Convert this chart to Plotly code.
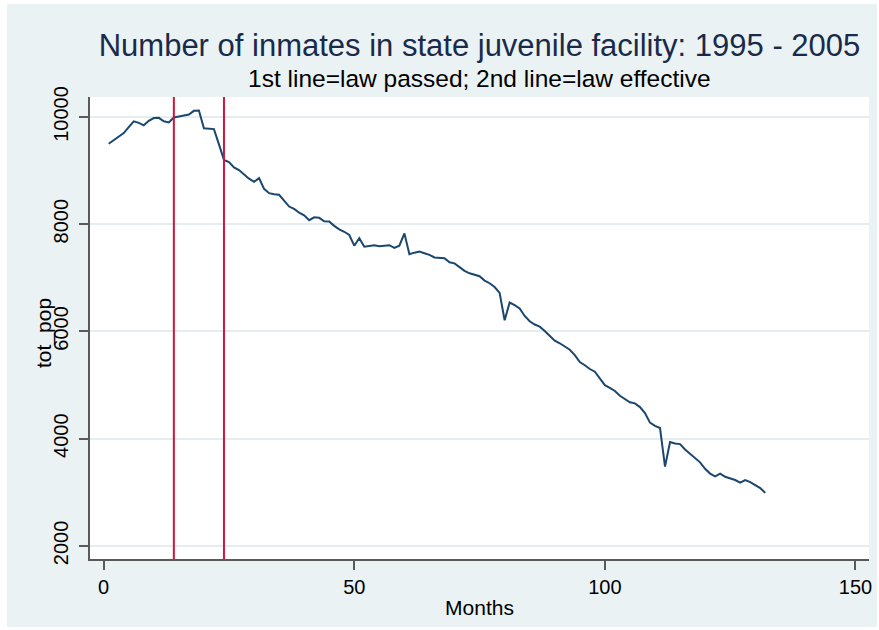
import plotly.graph_objects as go

months = list(range(1, 133))
tot_pop = [
    9500, 9570, 9640, 9700, 9810, 9920, 9890, 9845, 9930, 9980,
    9985, 9920, 9900, 9990, 10010, 10030, 10045, 10115, 10120, 9790,
    9780, 9775, 9490, 9200, 9160, 9060, 9010, 8930, 8850, 8790,
    8860, 8660, 8580, 8560, 8550, 8440, 8330, 8285, 8215, 8165,
    8075, 8130, 8120, 8055, 8050, 7970, 7905, 7860, 7800, 7600,
    7740, 7580, 7600, 7610, 7590, 7600, 7610, 7560, 7600, 7830,
    7440, 7470, 7490, 7460, 7430, 7380, 7370, 7365, 7290, 7270,
    7200, 7130, 7085, 7050, 7030, 6950, 6900, 6830, 6720, 6210,
    6540, 6490, 6430, 6290, 6190, 6130, 6090, 6010, 5920, 5830,
    5780, 5720, 5660, 5560, 5430, 5370, 5300, 5250, 5130, 5000,
    4950, 4890, 4800, 4740, 4680, 4660, 4590, 4480, 4300, 4240,
    4200, 3480, 3940, 3910, 3900, 3800, 3720, 3650, 3560, 3440,
    3350, 3300, 3350, 3290, 3265, 3230, 3180, 3230, 3190, 3140,
    3080, 2990,
]
law_lines = [14, 24]  # law passed, law effective
x_ticks = [0, 50, 100, 150]
y_ticks = [2000, 4000, 6000, 8000, 10000]

title_text = "Number of inmates in state juvenile facility: 1995 - 2005"
subtitle_text = "1st line=law passed; 2nd line=law effective"

W, H = 879, 630
ML, MR, MT, MB = 90, 10, 97, 71
PW, PH = W - ML - MR, H - MT - MB

FONT = "Liberation Sans, Arial, sans-serif"
BG = "#eaf2f3"

fig = go.Figure()
fig.add_trace(go.Scatter(
    x=months, y=tot_pop, mode="lines",
    line=dict(color="#1a476f", width=2),
    showlegend=False, hoverinfo="x+y",
))

for xv in law_lines:
    fig.add_vline(x=xv, line=dict(color="#d0143c", width=2), layer="above")

# white outer border around the light background
def px_x(p):
    return (p - ML) / PW

def px_y(p):
    return (H - MB - p) / PH

border = [
    (0, 0, 7, H),          # left
    (0, 0, W, 4),          # top
    (W - 2, 0, W, H),      # right
    (0, H - 3, W, H),      # bottom
]
for x0, y0, x1, y1 in border:
    fig.add_shape(type="rect", xref="paper", yref="paper",
                  x0=px_x(x0), x1=px_x(x1), y0=px_y(y1), y1=px_y(y0),
                  fillcolor="white", line=dict(width=0), layer="above")

fig.update_layout(
    width=W, height=H,
    margin=dict(l=ML, r=MR, t=MT, b=MB, pad=0, autoexpand=False),
    paper_bgcolor=BG, plot_bgcolor="white",
    font=dict(family=FONT, color="#000000"),
    title=dict(text=title_text, x=0.5, xref="paper", xanchor="center",
               y=1 - 45 / H, yref="container", yanchor="middle",
               font=dict(size=31, color="#1a2a4a", family=FONT)),
    annotations=[
        dict(text=subtitle_text, xref="paper", yref="paper",
             x=0.5, y=px_y(78), xanchor="center", yanchor="middle",
             showarrow=False, font=dict(size=24.5, color="#000000", family=FONT)),
        dict(text="tot_pop", xref="paper", yref="paper",
             x=px_x(44), y=px_y(333), xanchor="center", yanchor="middle",
             textangle=-90, showarrow=False,
             font=dict(size=21, color="#000000", family=FONT)),
    ],
    xaxis=dict(range=[-2.73, 152.7], tickvals=x_ticks, ticks="outside", ticklen=9,
               tickwidth=1.5, tickcolor="#5a5a5a", showline=True, linecolor="#5a5a5a",
               linewidth=1.5, showgrid=False, zeroline=False, automargin=False,
               tickfont=dict(size=20, color="#000000"),
               title=dict(text="Months", font=dict(size=21), standoff=4)),
    yaxis=dict(range=[1757, 10373], tickvals=y_ticks, tickformat="d",
               ticks="outside", ticklen=9, ticklabelstandoff=3,
               tickwidth=1.5, tickcolor="#5a5a5a", showline=True, linecolor="#5a5a5a",
               linewidth=1.5, showgrid=True, gridcolor="#e4edf0", gridwidth=1.5,
               zeroline=False, tickangle=-90, automargin=False,
               tickfont=dict(size=20, color="#000000")),
)

fig.write_html(
    "out.html",
    config={"displayModeBar": False},
    post_script="document.body.style.margin='0px';document.body.style.overflow='hidden';",
)
